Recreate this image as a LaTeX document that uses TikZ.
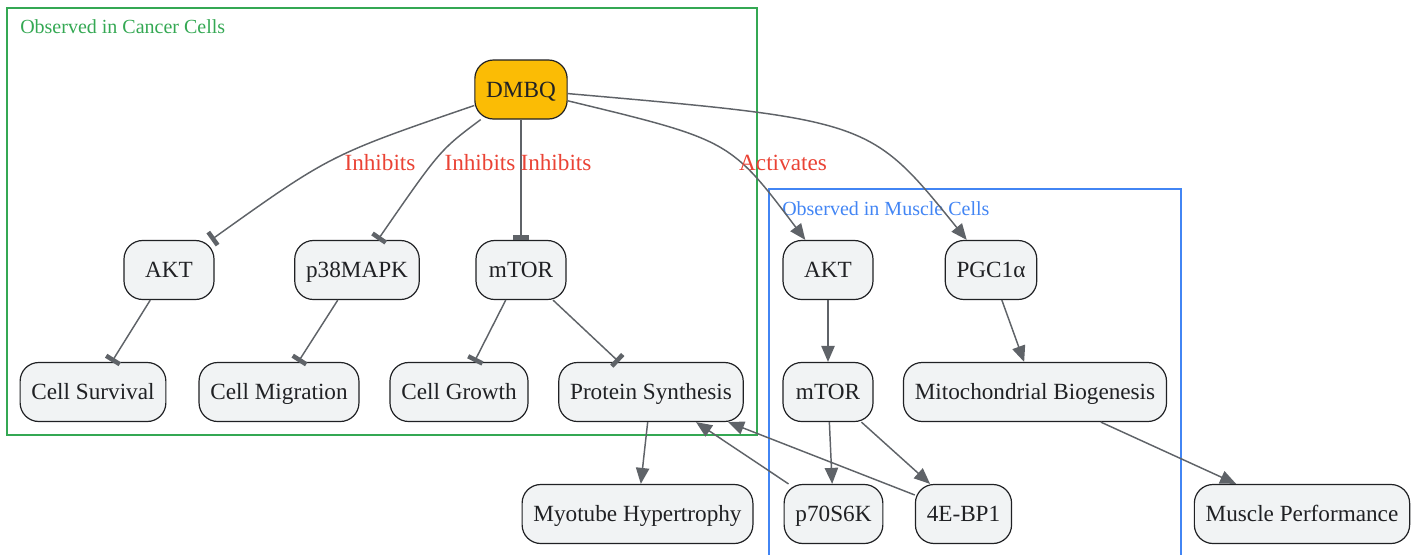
\documentclass[tikz,border=0pt]{standalone}
\usepackage{fontspec}
\setmainfont{Liberation Serif}
\usetikzlibrary{arrows.meta}

\definecolor{cancerGreen}{HTML}{34A853}
\definecolor{muscleBlue}{HTML}{4285F4}
\definecolor{labelRed}{HTML}{EA4335}
\definecolor{drugYellow}{HTML}{FBBC05}
\definecolor{edgeGray}{HTML}{5F6368}
\definecolor{boxFill}{HTML}{F1F3F4}
\definecolor{boxLine}{HTML}{202124}

\begin{document}
\begin{tikzpicture}[x=0.75pt, y=-0.75pt,
	box/.style={draw=boxLine, fill=boxFill, text=boxLine, rounded corners=14pt, line width=0.9pt,
		minimum width=67.5pt, minimum height=44.25pt, inner xsep=8.5pt, text height=14pt, text depth=2.5pt,
		font=\fontsize{17.4}{20}\selectfont},
	act/.style={draw=edgeGray, line width=1.1pt, -{Triangle[length=12pt, width=10pt]}},
	inh/.style={draw=edgeGray, line width=1.1pt, -{Bar[width=12pt, line width=3.4pt]}},
	lbl/.style={text=labelRed, inner sep=0pt, font=\fontsize{17.4}{20}\selectfont},
	grp/.style={anchor=west, inner sep=0pt, font=\fontsize{15}{18}\selectfont}]

\useasboundingbox (0,0) rectangle (1421,554);

%% Gruppen
\draw[cancerGreen, line width=1pt] (7,8) rectangle (757,435);
\node[grp, text=cancerGreen] (cancerTitle) at (20,27) {Observed in Cancer Cells};
\draw[muscleBlue, line width=1pt] (769,560) -- (769,189) -- (1181,189) -- (1181,560);
\node[grp, text=muscleBlue] (muscleTitle) at (782,209) {Observed in Muscle Cells};
%%%%%%%%%%%%%%%%

%% Knoten
\node[box, fill=drugYellow] (dmbq) at (521,89.5) {DMBQ};

\node[box] (aktC) at (169,270) {AKT};
\node[box] (p38) at (357,270) {p38MAPK};
\node[box] (mtorC) at (521,270) {mTOR};
\node[box] (survival) at (93,392) {Cell Survival};
\node[box] (migration) at (279,392) {Cell Migration};
\node[box] (growth) at (459,392) {Cell Growth};
\node[box] (protsyn) at (651,392) {Protein Synthesis};
\node[box] (myotube) at (637.5,514) {Myotube Hypertrophy};

\node[box] (aktM) at (828,270) {AKT};
\node[box] (pgc) at (991,270) {PGC1α};
\node[box] (mtorM) at (828,392) {mTOR};
\node[box] (mito) at (1035,392) {Mitochondrial Biogenesis};
\node[box] (p70) at (833.5,514) {p70S6K};
\node[box] (ebp) at (963.5,514) {4E-BP1};
\node[box] (perf) at (1302,514) {Muscle Performance};
%%%%%%%%%%%%%%%%

%% DMBQ
\draw[inh] (dmbq) .. controls (330,155) .. (aktC);
\draw[inh] (dmbq) .. controls (440,150) .. (p38);
\draw[inh] (dmbq) -- (mtorC);
\draw[act] (dmbq) .. controls (730,140) .. (aktM);
\draw[act] (dmbq) .. controls (870,120) .. (pgc);
\node[lbl] (inhA) at (380,163) {Inhibits};
\node[lbl] (inhB) at (480,163) {Inhibits};
\node[lbl] (inhC) at (556,163) {Inhibits};
\node[lbl] (actA) at (783,163) {Activates};

%% Krebszellen
\draw[inh] (aktC) -- (survival);
\draw[inh] (p38) -- (migration);
\draw[inh] (mtorC) -- (growth);
\draw[inh] (mtorC) -- (protsyn);
\draw[act] (protsyn) -- (myotube);

%% Muskelzellen
\draw[act] (aktM) -- (mtorM);
\draw[act] (mtorM) -- (p70);
\draw[act] (mtorM) -- (ebp);
\draw[act] (p70) -- (protsyn);
\draw[act] (ebp) -- (protsyn);
\draw[act] (pgc) -- (mito);
\draw[act] (mito) -- (perf);

\end{tikzpicture}
\end{document}
